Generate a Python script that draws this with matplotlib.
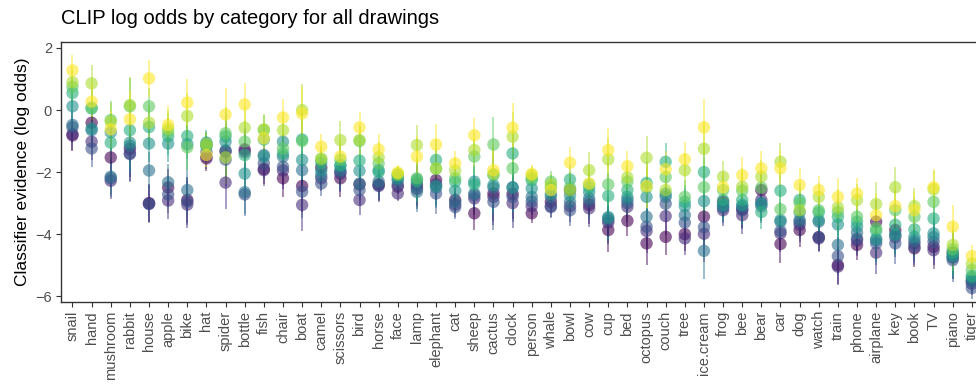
import numpy as np
import matplotlib.pyplot as plt
from matplotlib import cm

plt.rcParams['font.family'] = ['Liberation Sans', 'DejaVu Sans']

# ---------------------------------
# Data: mean log odds per category, one list per age group
# ---------------------------------
categories = ["snail", "hand", "mushroom", "rabbit", "house", "apple", "bike", "hat",
              "spider", "bottle", "fish", "chair", "boat", "camel", "scissors", "bird",
              "horse", "face", "lamp", "elephant", "cat", "sheep", "cactus", "clock",
              "person", "whale", "bowl", "cow", "cup", "bed", "octopus", "couch",
              "tree", "ice.cream", "frog", "bee", "bear", "car", "dog", "watch",
              "train", "phone", "airplane", "key", "book", "TV", "piano", "tiger"]

group1 = [-0.82, -0.41, -1.53, -1.25, -3.0, -2.5, -2.9, -1.56, -1.34, -1.27, -1.9, -2.2,
          -2.45, -1.85, -2.2, -2.4, -2.4, -2.47, -2.4, -2.26, -2.9, -3.33, -2.69, -2.7,
          -3.33, -2.96, -2.58, -3.06, -3.87, -3.57, -4.3, -4.09, -4.0, -3.44, -2.96, -3.2,
          -2.58, -4.32, -3.87, -4.1, -5.0, -4.35, -3.6, -3.87, -4.46, -4.41, -4.6, -5.5]
group2 = [-0.78, -1.02, -2.28, -1.4, -3.02, -2.92, -3.05, -1.5, -2.34, -1.35, -1.94, -1.95,
          -3.06, -2.2, -2.05, -2.9, -2.45, -2.69, -2.55, -2.4, -3.05, -2.85, -2.8, -3.0,
          -3.1, -3.1, -3.1, -3.17, -3.63, -3.12, -3.9, -3.42, -4.14, -3.99, -3.23, -3.39,
          -2.9, -3.98, -3.7, -4.14, -5.05, -4.2, -4.6, -4.1, -4.3, -4.52, -4.75, -5.6]
group3 = [-0.55, -1.24, -2.2, -1.42, -3.03, -2.72, -2.95, -1.35, -1.6, -2.72, -1.72, -1.83,
          -2.63, -2.37, -2.0, -2.58, -2.42, -2.4, -2.49, -2.69, -3.13, -2.75, -2.96, -2.8,
          -2.95, -3.13, -3.23, -2.95, -3.55, -3.0, -3.76, -3.02, -3.63, -3.78, -3.15, -3.23,
          -3.1, -3.9, -3.6, -4.1, -4.71, -4.14, -4.3, -4.3, -4.41, -4.25, -4.84, -5.74]
group4 = [-0.48, -0.65, -2.15, -1.15, -1.95, -2.33, -2.58, -1.15, -1.3, -2.65, -1.45, -1.5,
          -1.94, -2.1, -1.94, -2.37, -2.3, -2.26, -2.64, -2.5, -2.96, -2.69, -2.5, -2.49,
          -2.8, -2.8, -2.96, -2.85, -3.49, -2.9, -3.44, -2.8, -3.39, -4.54, -3.1, -3.1,
          -3.0, -3.6, -3.55, -3.6, -4.35, -3.95, -4.2, -4.0, -4.2, -4.1, -4.75, -5.52]
group5 = [0.12, -0.6, -0.72, -1.05, -1.08, -1.08, -1.1, -1.05, -1.02, -2.05, -1.5, -1.02,
          -1.61, -1.95, -1.8, -1.96, -1.94, -2.2, -2.24, -2.45, -2.6, -2.31, -2.42, -2.5,
          -2.53, -2.7, -2.75, -2.64, -3.45, -2.8, -2.8, -2.7, -3.1, -2.94, -3.06, -3.06,
          -3.03, -3.55, -3.3, -3.55, -3.69, -3.76, -4.15, -4.03, -4.09, -3.98, -4.7, -5.4]
group6 = [0.55, 0.05, -1.05, -0.65, -0.55, -0.85, -0.84, -1.1, -0.85, -1.45, -0.95, -1.4,
          -0.95, -1.7, -1.77, -1.63, -2.0, -2.1, -2.3, -1.61, -2.31, -2.4, -2.1, -1.4,
          -2.26, -2.5, -2.24, -2.5, -2.77, -2.58, -2.35, -1.67, -2.96, -2.0, -2.9, -2.9,
          -3.29, -2.6, -2.9, -3.3, -3.45, -3.6, -3.9, -3.7, -3.85, -3.5, -4.6, -5.35]
group7 = [0.75, 0.08, -0.32, 0.12, 0.12, -0.7, -1.2, -1.18, -0.75, -1.02, -0.65, -1.24,
          -1.0, -1.6, -1.6, -1.0, -1.72, -2.1, -2.2, -1.9, -2.2, -1.5, -1.11, -1.88,
          -2.2, -2.31, -2.5, -2.4, -2.4, -2.31, -2.5, -2.16, -2.8, -2.49, -2.58, -2.6,
          -2.5, -3.2, -3.0, -3.23, -3.29, -3.44, -3.81, -3.23, -3.44, -2.96, -4.49, -5.16]
group8 = [0.9, 0.86, -0.38, 0.16, -0.41, -0.6, -0.19, -1.1, -1.53, -0.57, -0.62, -0.65,
          0.0, -1.56, -0.97, -0.97, -1.53, -2.05, -1.13, -1.88, -1.95, -1.29, -2.06, -0.86,
          -2.1, -2.4, -2.58, -1.94, -1.59, -2.17, -1.54, -2.58, -1.94, -1.25, -2.15, -2.47,
          -2.15, -1.67, -3.23, -2.8, -3.14, -2.9, -3.03, -2.49, -3.1, -2.56, -4.35, -4.95]
group9 = [1.28, 0.27, -0.62, -0.3, 1.02, -0.48, 0.24, -1.45, -0.14, 0.18, -0.91, -0.24,
          -0.11, -1.18, -1.5, -0.56, -1.27, -2.02, -1.5, -1.11, -1.72, -0.81, -1.94, -0.57,
          -2.06, -2.58, -1.7, -2.37, -1.29, -1.81, -2.45, -1.91, -1.59, -0.56, -2.49, -2.1,
          -1.88, -1.88, -2.42, -2.58, -2.8, -2.69, -3.39, -3.1, -3.23, -2.49, -3.76, -4.71]

# half-width of the confidence interval per category
ci = [0.5, 0.6, 0.6, 0.9, 0.6, 0.6, 0.75, 0.4, 0.85, 0.7, 0.5, 0.6,
      0.85, 0.4, 0.6, 0.5, 0.5, 0.25, 0.65, 0.65, 0.4, 0.55, 0.9, 0.8,
      0.3, 0.35, 0.5, 0.6, 0.7, 0.5, 0.7, 0.6, 0.55, 0.9, 0.5, 0.6,
      0.55, 0.6, 0.55, 0.45, 0.6, 0.5, 0.7, 0.65, 0.6, 0.6, 0.7, 0.35]

groups = [group1, group2, group3, group4, group5, group6, group7, group8, group9]
for g in groups:
    assert len(g) == len(categories)

# ---------------------------------
# Plot
# ---------------------------------
fig = plt.figure(figsize=(9.76, 3.92), dpi=100)
ax = fig.add_axes([0.0625, 0.2296, 0.945, 0.663])

x = np.arange(len(categories))
colors = cm.viridis(np.linspace(0, 1, len(groups)))

for vals, col in zip(groups, colors):
    vals = np.array(vals)
    ax.vlines(x, vals - np.array(ci), vals + np.array(ci), color=col, alpha=0.6, lw=1.1, zorder=2)
    ax.scatter(x, vals, s=80, color=col, alpha=0.6, edgecolors='none', zorder=3)

ax.set_xlim(-0.6, len(categories) - 0.4)
ax.set_ylim(-6.19, 2.19)
ax.set_yticks([-6, -4, -2, 0, 2])
ax.set_yticklabels(["\u22126", "\u22124", "\u22122", "0", "2"])
ax.set_xticks(x)
ax.set_xticklabels(categories, rotation=90, va='top', ha='center')

for s in ax.spines.values():
    s.set_color('#333333')
    s.set_linewidth(1.0)
ax.tick_params(axis='both', colors='#333333', labelcolor='#4d4d4d', labelsize=10.5,
               length=3.5, width=0.8, pad=3)

ax.set_ylabel("Classifier evidence (log odds)", fontsize=12.5, color='black', labelpad=4)
fig.text(0.0625, 0.953, "CLIP log odds by category for all drawings", fontsize=14.5,
         color='black', ha='left', va='center')

plt.savefig("out.png", dpi=100)
